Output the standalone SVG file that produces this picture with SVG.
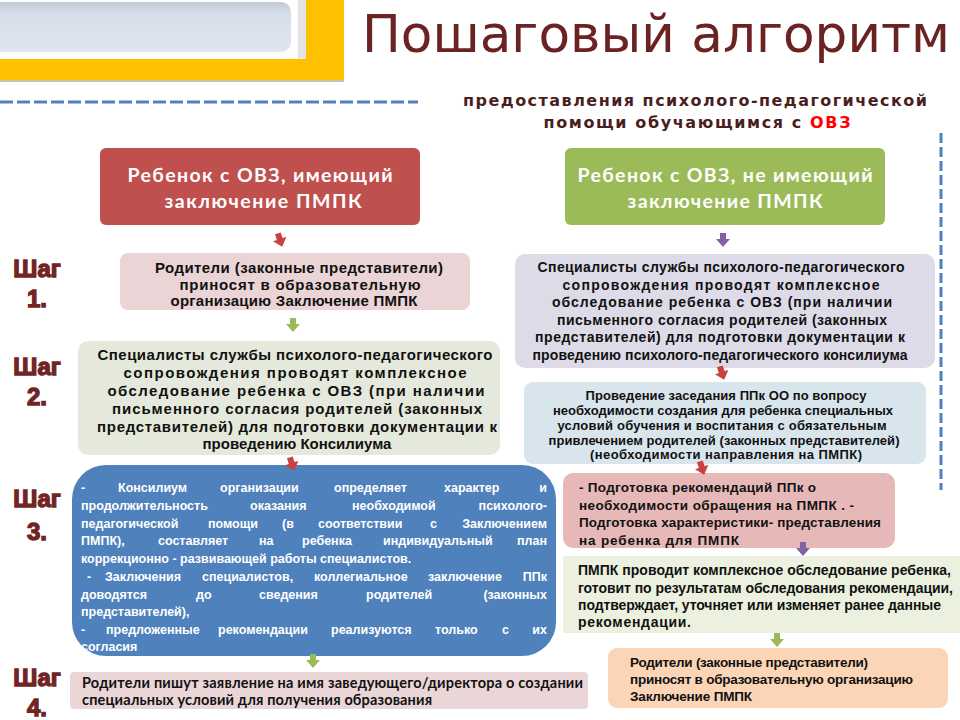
<svg xmlns="http://www.w3.org/2000/svg" xmlns:xlink="http://www.w3.org/1999/xlink" width="960" height="720" viewBox="0 0 960 720">
<defs>
<linearGradient id="barg" x1="0" y1="0" x2="0" y2="1">
<stop offset="0" stop-color="#C3CAD4"/><stop offset="0.25" stop-color="#D6DFEA"/><stop offset="1" stop-color="#DCE5F0"/>
</linearGradient>
<path id="arr" d="M-3,-7 H3 V-1 H7 L0,7 L-7,-1 H-3 Z"/>
<style>
.b{font-family:"Liberation Sans",Arial,sans-serif;font-weight:bold;fill:#111}
.c{text-anchor:middle}
.sub{font-family:"DejaVu Sans",Verdana,sans-serif;font-weight:bold;font-size:16px;fill:#4A1E1E;text-anchor:middle}
.hd{font-family:Lato,"Open Sans",sans-serif;font-weight:bold;font-size:19.5px;fill:#fff;text-anchor:middle}
.st{font-family:"Liberation Sans",Arial,sans-serif;font-weight:bold;font-size:24px;fill:#722424;stroke:#722424;stroke-width:1.3;text-anchor:middle}
.f15{font-size:15px}
.f14{font-size:14px}
.f135{font-size:13.5px}
.f13{font-size:13px}
.s3{font-family:"Liberation Sans",Arial,sans-serif;font-weight:bold;font-size:12.5px;fill:#fff}
.ar-r{fill:#C9423F}
.ar-g{fill:#9BBB59}
.ar-p{fill:#8064A2}
</style>
</defs>
<rect width="960" height="720" fill="#fff"/>

<g id="title">
<rect x="0" y="0" width="344" height="80" fill="#FFC000"/>
<rect x="0" y="80" width="344" height="2" fill="#C9C2AC"/>
<rect x="0" y="0" width="306" height="59" fill="#fff"/>
<rect x="298" y="0" width="8" height="59" fill="#E4E4E4"/>
<rect x="-12" y="2" width="303" height="50" rx="10" fill="url(#barg)"/>
<text x="362" y="52" font-family="DejaVu Sans,Verdana,sans-serif" font-size="52" fill="#6B2222" textLength="588" lengthAdjust="spacingAndGlyphs">Пошаговый алгоритм</text>
<line x1="0" y1="102" x2="418" y2="102" stroke="#4F81BD" stroke-width="3" stroke-dasharray="13 4"/>
<line x1="941" y1="133" x2="941" y2="490" stroke="#4F81BD" stroke-width="3" stroke-dasharray="10 4"/>
<text x="695" y="106" class="sub" textLength="464">предоставления психолого-педагогической</text>
<text x="697" y="128" class="sub" textLength="307">помощи обучающимся с <tspan style="fill:#FF0000">ОВЗ</tspan></text>
</g>

<g id="steps">
<text x="37" y="277" class="st">Шаг</text><text x="37" y="307" class="st">1.</text>
<text x="37" y="375" class="st">Шаг</text><text x="37" y="405" class="st">2.</text>
<text x="37" y="507" class="st">Шаг</text><text x="37" y="540" class="st">3.</text>
<text x="37" y="686" class="st">Шаг</text><text x="37" y="716" class="st">4.</text>
</g>

<g id="header-left">
<rect x="100" y="148" width="320" height="77" rx="6" fill="#C0504D"/>
<text x="260" y="182" class="hd" textLength="265">Ребенок с ОВЗ, имеющий</text>
<text x="263" y="208" class="hd" textLength="197">заключение ПМПК</text>
</g>

<g id="header-right">
<rect x="565" y="148" width="320" height="77" rx="6" fill="#9BBB59"/>
<text x="725" y="182" class="hd" textLength="295">Ребенок с ОВЗ, не имеющий</text>
<text x="725" y="208" class="hd" textLength="195">заключение ПМПК</text>
</g>

<g id="step1">
<rect x="120" y="253" width="350" height="57" rx="8" fill="#EAD4D5"/>
<text x="299" y="273" class="b c f15" textLength="288">Родители (законные представители)</text>
<text x="300" y="290" class="b c f15" textLength="241">приносят в образовательную</text>
<text x="294" y="306" class="b c f15" textLength="247">организацию Заключение ПМПК</text>
</g>

<g id="step2">
<rect x="78" y="341" width="422" height="114" rx="10" fill="#E5E9DB"/>
<text x="295" y="360" class="b c f15" textLength="395">Специалисты службы психолого-педагогического</text>
<text x="295" y="378" class="b c f15" textLength="343">сопровождения проводят комплексное</text>
<text x="296" y="396" class="b c f15" textLength="377">обследование ребенка с ОВЗ (при наличии</text>
<text x="297" y="414" class="b c f15" textLength="370">письменного согласия родителей (законных</text>
<text x="297" y="432" class="b c f15" textLength="400">представителей) для подготовки документации к</text>
<text x="297" y="449" class="b c f15">проведению Консилиума</text>
</g>

<g id="step3">
<rect x="72" y="465" width="484" height="191" rx="34" fill="#4F81BD"/>
<text class="s3" y="492"><tspan x="81">-</tspan><tspan x="118">Консилиум</tspan><tspan x="220">организации</tspan><tspan x="334">определяет</tspan><tspan x="444">характер</tspan></text>
<text class="s3" y="492" x="547" text-anchor="end">и</text>
<text class="s3" y="510"><tspan x="81">продолжительность</tspan><tspan x="250">оказания</tspan><tspan x="352">необходимой</tspan></text>
<text class="s3" y="510" x="547" text-anchor="end">психолого-</text>
<text class="s3" y="528"><tspan x="81">педагогической</tspan><tspan x="208">помощи</tspan><tspan x="282">(в</tspan><tspan x="318">соответствии</tspan><tspan x="430">с</tspan></text>
<text class="s3" y="528" x="547" text-anchor="end">Заключением</text>
<text class="s3" y="545"><tspan x="81">ПМПК),</tspan><tspan x="158">составляет</tspan><tspan x="259">на</tspan><tspan x="302">ребенка</tspan><tspan x="383">индивидуальный</tspan></text>
<text class="s3" y="545" x="547" text-anchor="end">план</text>
<text class="s3" y="563" x="81">коррекционно - развивающей работы специалистов.</text>
<text class="s3" y="581"><tspan x="87">-</tspan><tspan x="105">Заключения</tspan><tspan x="202">специалистов,</tspan><tspan x="314">коллегиальное</tspan><tspan x="428">заключение</tspan></text>
<text class="s3" y="581" x="547" text-anchor="end">ППк</text>
<text class="s3" y="599"><tspan x="81">доводятся</tspan><tspan x="196">до</tspan><tspan x="259">сведения</tspan><tspan x="366">родителей</tspan></text>
<text class="s3" y="599" x="547" text-anchor="end">(законных</text>
<text class="s3" y="616" x="81">представителей),</text>
<text class="s3" y="634"><tspan x="81">-</tspan><tspan x="106">предложенные</tspan><tspan x="218">рекомендации</tspan><tspan x="331">реализуются</tspan><tspan x="435">только</tspan><tspan x="502">с</tspan></text>
<text class="s3" y="634" x="547" text-anchor="end">их</text>
<text class="s3" y="651" x="81">согласия</text>
</g>

<g id="step4">
<rect x="70" y="672" width="518" height="37" rx="4" fill="#EBD6D7"/>
<text x="82" y="688" font-family="Lato,'Open Sans',sans-serif" font-weight="bold" font-size="14.5" fill="#111" textLength="501">Родители пишут заявление на имя заведующего/директора о создании</text>
<text x="82" y="705" font-family="Lato,'Open Sans',sans-serif" font-weight="bold" font-size="14.5" fill="#111" textLength="350">специальных условий для получения образования</text>
</g>

<g id="r1">
<rect x="515" y="254" width="420" height="114" rx="10" fill="#DDDBE7"/>
<text x="721" y="272" class="b c f14" textLength="367">Специалисты службы психолого-педагогического</text>
<text x="721" y="290" class="b c f14" textLength="317">сопровождения проводят комплексное</text>
<text x="722" y="307" class="b c f14" textLength="340">обследование ребенка с ОВЗ (при наличии</text>
<text x="722" y="325" class="b c f14" textLength="330">письменного согласия родителей (законных</text>
<text x="720" y="342" class="b c f14" textLength="370">представителей) для подготовки документации к</text>
<text x="720" y="360" class="b c f14" textLength="375">проведению психолого-педагогического консилиума</text>
</g>

<g id="r2">
<rect x="524" y="382" width="402" height="82" rx="9" fill="#D9E5EC"/>
<text x="726" y="400" class="b c f13" textLength="281">Проведение заседания ППк  ОО по вопросу</text>
<text x="723" y="415" class="b c f13" textLength="340">необходимости создания для ребенка специальных</text>
<text x="722" y="430" class="b c f13" textLength="329">условий обучения и воспитания с обязательным</text>
<text x="724" y="445" class="b c f13" textLength="351">привлечением родителей (законных представителей)</text>
<text x="726" y="459" class="b c f13" textLength="272">(необходимости направления на ПМПК)</text>
</g>

<g id="r3">
<rect x="563" y="473" width="332" height="75" rx="10" fill="#E6B9B8"/>
<text x="579" y="492" class="b f135" textLength="237">- Подготовка рекомендаций ППк о</text>
<text x="579" y="510" class="b f135" textLength="275">необходимости обращения на ПМПК . -</text>
<text x="579" y="527" class="b f135" textLength="302">Подготовка характеристики- представления</text>
<text x="579" y="545" class="b f135" textLength="160">на ребенка для ПМПК</text>
</g>

<g id="r4">
<rect x="563" y="556" width="397" height="77" fill="#EBF1DE"/>
<text x="578" y="575" class="b f14" textLength="373">ПМПК проводит комплексное обследование ребенка,</text>
<text x="578" y="593" class="b f14" textLength="375">готовит по результатам обследования рекомендации,</text>
<text x="578" y="610" class="b f14" textLength="363">подтверждает, уточняет или изменяет ранее данные</text>
<text x="578" y="627" class="b f14" textLength="113">рекомендации.</text>
</g>

<g id="r5">
<rect x="608" y="648" width="340" height="60" rx="9" fill="#FBD5B5"/>
<text x="630" y="667" class="b f135" textLength="238">Родители (законные представители)</text>
<text x="630" y="684" class="b f135" textLength="283">приносят в образовательную организацию</text>
<text x="630" y="701" class="b f135" textLength="122">Заключение ПМПК</text>
</g>

<g id="connectors">
<use xlink:href="#arr" class="ar-r" transform="translate(280,240) rotate(-18)"/>
<use xlink:href="#arr" class="ar-p" transform="translate(723,240)"/>
<use xlink:href="#arr" class="ar-g" transform="translate(293,325)"/>
<use xlink:href="#arr" class="ar-r" transform="translate(292,464) rotate(-18)"/>
<use xlink:href="#arr" class="ar-r" transform="translate(722,373) rotate(-18)"/>
<use xlink:href="#arr" class="ar-r" transform="translate(702,468) rotate(-18)"/>
<use xlink:href="#arr" class="ar-p" transform="translate(803,549)"/>
<use xlink:href="#arr" class="ar-g" transform="translate(313,661)"/>
<use xlink:href="#arr" class="ar-g" transform="translate(777,640)"/>
</g>
</svg>
